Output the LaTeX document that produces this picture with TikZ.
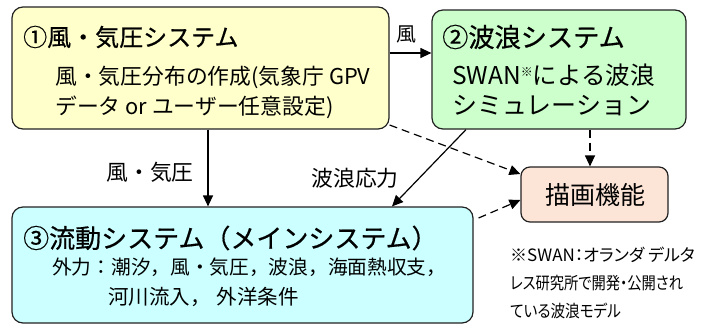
\documentclass[tikz,border=0pt]{standalone}
\usepackage{fontspec}
\setmainfont{Noto Sans CJK JP}
\newfontfamily\tfont[FakeBold=0.6]{Noto Sans CJK JP}
\newfontfamily\pfont[RawFeature=+palt]{Noto Sans CJK JP}
\usetikzlibrary{arrows.meta,calc}
\definecolor{cyel}{HTML}{FFFFCC}
\definecolor{cgrn}{HTML}{CCFFCC}
\definecolor{ccyn}{HTML}{CCFFFF}
\definecolor{cpch}{HTML}{FCE4D6}
\definecolor{cbd}{HTML}{222222}
\tikzset{
  box/.style={draw=cbd,line width=1.2pt,rounded corners=11pt,inner sep=0pt},
  ttl/.style={anchor=west,inner sep=0pt,font=\tfont\fontsize{24}{28}\selectfont},
  sub/.style={anchor=west,inner sep=0pt,font=\fontsize{21.8}{25}\selectfont},
  lbl/.style={inner sep=0pt,font=\fontsize{21.8}{25}\selectfont},
  note/.style={anchor=west,inner sep=0pt,font=\pfont\fontsize{17}{20}\selectfont},
  arr/.style={line width=1.2pt,-{Triangle[length=11pt,width=10pt]}},
  darr/.style={arr,dash pattern=on 8pt off 5pt},
}
\begin{document}
\begin{tikzpicture}[x=1pt,y=-1pt]
\useasboundingbox (0,0) rectangle (704,324);
% boxes
\node[box,fill=cyel,minimum width=377pt,minimum height=122pt] (b1) at (200.5,68) {};
\node[box,fill=cgrn,minimum width=254pt,minimum height=119pt] (b2) at (559,69.5) {};
\node[box,fill=ccyn,minimum width=461pt,minimum height=116pt] (b3) at (242.5,265) {};
\node[box,fill=cpch,minimum width=147pt,minimum height=55pt,rounded corners=9pt] (b4) at (594.5,194.5) {};
% texts box1
\node[ttl,font=\tfont\fontsize{24}{28}\selectfont] (t1) at (23,37) {①風・気圧システム};
\node[sub] (s1a) at (55,77) {風・気圧分布の作成(気象庁 GPV};
\node[sub] (s1b) at (55,107) {データ or ユーザー任意設定)};
% box2
\node[ttl,font=\tfont\fontsize{26.2}{30}\selectfont] (t2) at (442,37) {②波浪システム};
\node[sub,font=\fontsize{24.5}{28}\selectfont] (s2a) at (452,75) {SWAN\raisebox{0.6ex}{\fontsize{12}{13}\selectfont ※}による波浪};
\node[sub,font=\fontsize{25}{28}\selectfont] (s2b) at (452,106) {シミュレーション};
% box3
\node[ttl,font=\tfont\fontsize{26}{30}\selectfont] (t3) at (23,238) {③流動システム（メインシステム）};
\node[sub,font=\fontsize{19.7}{23}\selectfont] (s3a) at (52,267) {外力：潮汐，風・気圧，波浪，海面熱収支，};
\node[sub,font=\fontsize{20.5}{23}\selectfont] (s3b) at (108,297) {河川流入，\hspace{0.3em}外洋条件};
% box4
\node[lbl,font=\fontsize{25}{29}\selectfont] (t4) at (595,195) {描画機能};
% note
\node[note] (n1) at (510,255) {※SWAN：オランダ デルタ};
\node[note] (n2) at (510,283) {\scalebox{0.84}[1]{レス研究所で開発・公開され}};
\node[note] (n3) at (510,311) {\scalebox{0.86}[1]{ている波浪モデル}};
% connectors
\draw[arr] (b1.east |- 0,53) -- (b2.west |- 0,53);
\node[lbl,font=\fontsize{20}{24}\selectfont] (l1) at (406,34) {風};
\draw[arr] (b1.south -| 208,0) -- (b3.north -| 208,0);
\node[lbl] (l2) at (150,172) {風・気圧};
\draw[arr] (b2.south -| 466,0) -- (b3.north -| 392,0);
\node[lbl] (l3) at (355,178) {波浪応力};
\draw[darr] (b1.east |- 0,125) -- (b4.west |- 0,174);
\draw[darr] (b2.south -| 590,0) -- (b4.north -| 590,0);
\draw[darr] ($(b3.east |- 0,218)+(5,0)$) -- (b4.west |- 0,200);
\end{tikzpicture}
\end{document}
